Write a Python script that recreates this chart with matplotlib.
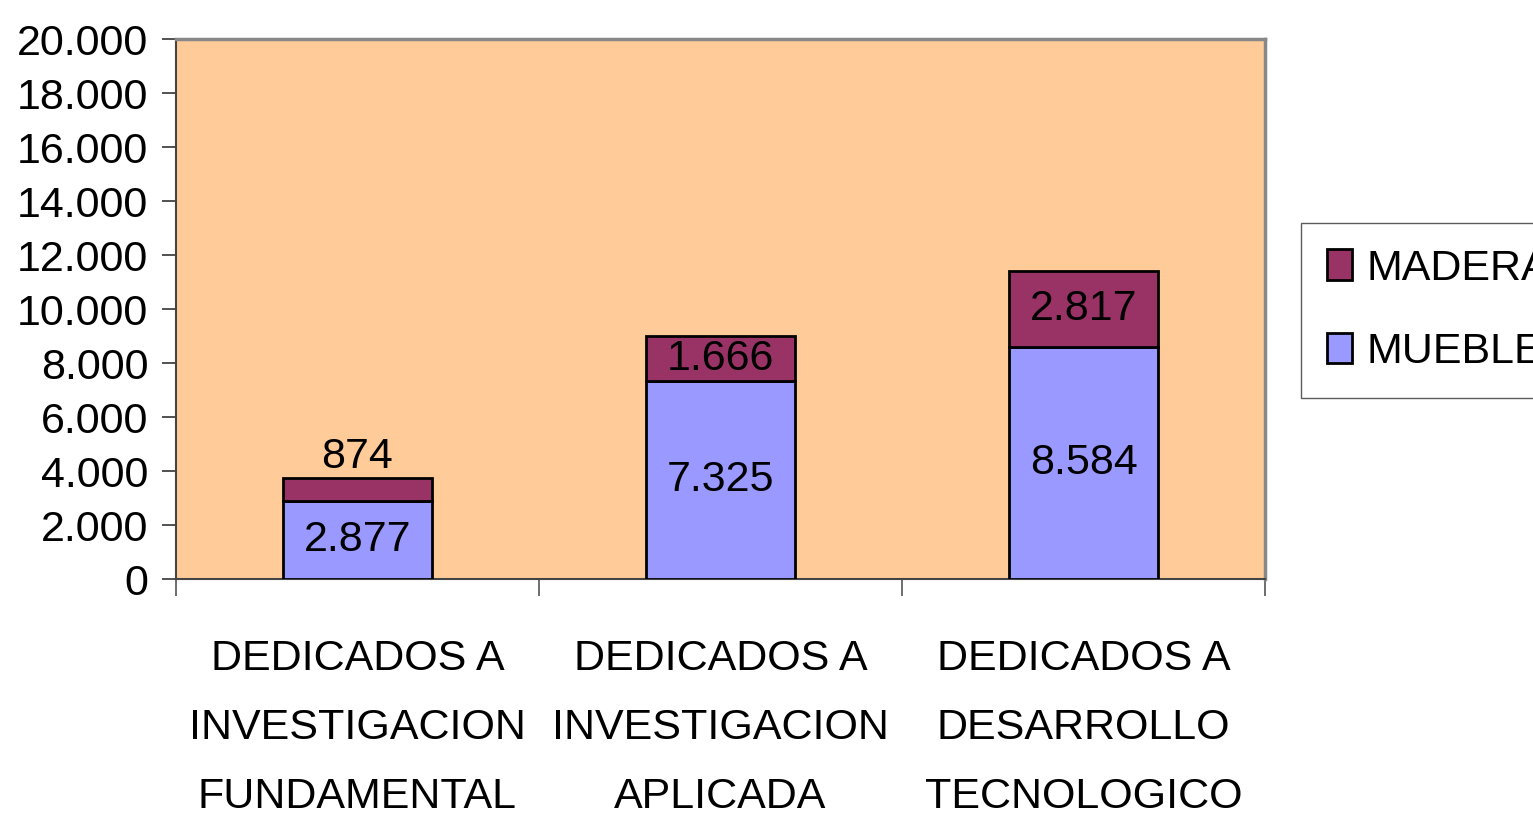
import matplotlib
matplotlib.use("Agg")
import matplotlib.pyplot as plt
from matplotlib.patches import Patch
from matplotlib.ticker import FuncFormatter, FixedLocator

categories = ["DEDICADOS A\nINVESTIGACION\nFUNDAMENTAL",
              "DEDICADOS A\nINVESTIGACION\nAPLICADA",
              "DEDICADOS A\nDESARROLLO\nTECNOLOGICO"]
mueble = [2877, 7325, 8584]
madera = [874, 1666, 2817]
series_names = ["MADERA", "MUEBLE"]

plt.rcParams["font.family"] = ["Liberation Sans", "DejaVu Sans"]
FS = 31

def thousands(v, pos=None):
    return f"{int(round(v)):,}".replace(",", ".")

fig = plt.figure(figsize=(15.33, 8.16), dpi=100)
ax = fig.add_axes([0.1148, 0.2904, 0.8252 - 0.1148, 0.9522 - 0.2904])
ax.set_facecolor("#FFCC99")

x = list(range(len(categories)))
w = 0.41
ax.bar(x, mueble, width=w, color="#9999FF", edgecolor="black", linewidth=2, zorder=3)
ax.bar(x, madera, width=w, bottom=mueble, color="#993366", edgecolor="black", linewidth=2, zorder=3)

ax.set_xlim(-0.5, 2.5)
ax.set_ylim(0, 20000)
ax.set_yticks(range(0, 20001, 2000))
ax.yaxis.set_major_formatter(FuncFormatter(thousands))
ax.set_xticks(x)
ax.set_xticklabels(categories, fontsize=FS, linespacing=1.94)
ax.xaxis.set_minor_locator(FixedLocator([-0.5, 0.5, 1.5, 2.5]))
ax.tick_params(axis="x", which="major", length=0, pad=43)
ax.tick_params(axis="x", which="minor", length=12, width=1.2, color="#555555", direction="out")
ax.tick_params(axis="y", which="major", length=10, width=1.2, color="#333333", labelsize=FS, pad=10)

for s in ("top", "right"):
    ax.spines[s].set_color("#888888")
    ax.spines[s].set_linewidth(2.5)
for s in ("left", "bottom"):
    ax.spines[s].set_color("#444444")
    ax.spines[s].set_linewidth(1.5)

# value labels
for i in x:
    ax.text(i, mueble[i] / 2, thousands(mueble[i]), ha="center", va="center",
            fontsize=FS, zorder=4)
    top = mueble[i] + madera[i]
    if madera[i] < 1200:
        ax.text(i, top + 370, thousands(madera[i]), ha="center", va="baseline",
                fontsize=FS, zorder=4)
    else:
        ax.text(i, mueble[i] + madera[i] / 2, thousands(madera[i]), ha="center",
                va="center", fontsize=FS, zorder=4)

handles = [Patch(facecolor="#993366", edgecolor="black", linewidth=2),
           Patch(facecolor="#9999FF", edgecolor="black", linewidth=2)]
leg = fig.legend(handles, series_names, loc="upper left",
                 bbox_to_anchor=(0.8487, 0.7267), bbox_transform=fig.transFigure,
                 fontsize=FS, frameon=True, fancybox=False, borderaxespad=0,
                 handlelength=0.58, handleheight=0.72, handletextpad=0.35,
                 labelspacing=1.0, borderpad=0.6)
leg.get_frame().set_edgecolor("#333333")
leg.get_frame().set_linewidth(1)

fig.savefig("out.png", dpi=100)
